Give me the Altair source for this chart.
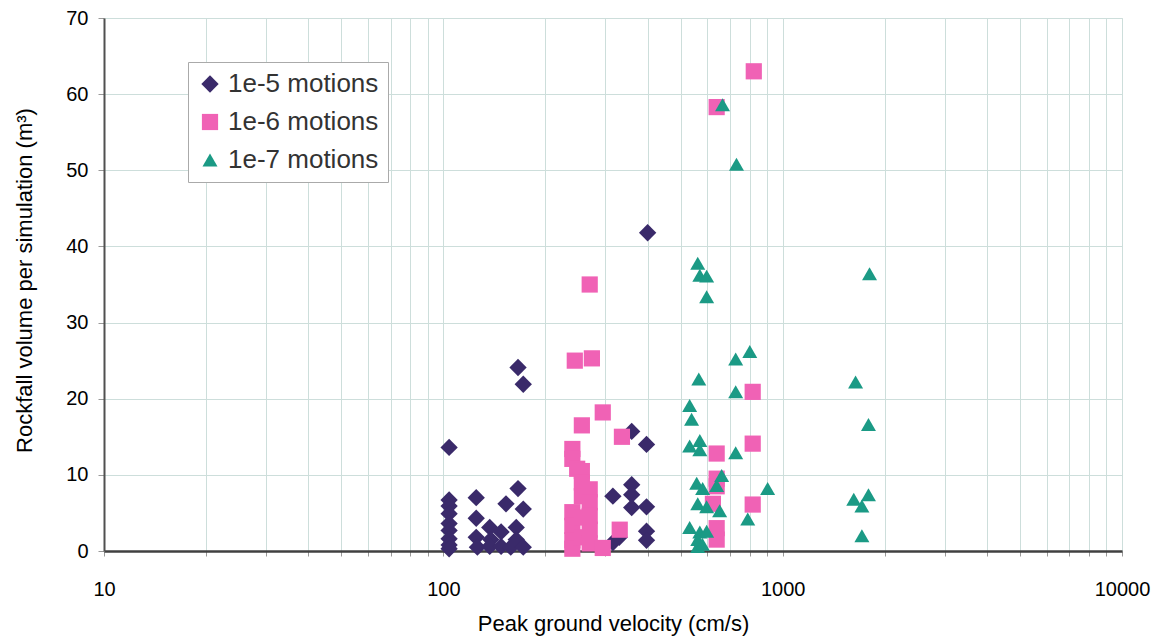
import altair as alt
import pandas as pd

# ---- data ----
s5_name = "1e-5 motions"
s5_x = [104, 104, 104, 104, 104, 104, 104, 104, 104,
        125, 125, 125, 126,
        137, 138, 137,
        148, 148, 153, 158,
        164, 164, 166, 166, 172, 172, 172,
        316, 316, 330, 359, 359, 359, 359,
        397, 397, 397, 397, 400]
s5_y = [13.6, 6.7, 5.9, 4.9, 3.6, 2.7, 1.6, 0.8, 0.3,
        7.0, 4.3, 1.8, 0.5,
        3.1, 1.5, 0.6,
        0.6, 2.5, 6.2, 0.5,
        3.1, 1.5, 8.2, 24.1, 21.9, 5.5, 0.5,
        7.2, 1.1, 1.8, 15.7, 8.7, 7.4, 5.7,
        14.0, 5.8, 2.6, 1.4, 41.8]

s6_name = "1e-6 motions"
s6_x = [244, 274, 270, 295, 256, 336,
        240, 240, 240, 240, 240, 240, 248,
        256, 256, 256, 256, 256,
        270, 270, 270, 270, 270,
        295, 331,
        639, 639, 639, 623, 639, 639,
        816, 816, 816, 822, 639]
s6_y = [25.0, 25.3, 35.0, 18.2, 16.5, 15.0,
        13.4, 12.1, 5.1, 3.3, 1.4, 0.3, 10.8,
        10.5, 9.0, 7.2, 4.4, 1.8,
        8.1, 6.4, 4.6, 2.8, 1.0,
        0.4, 2.8,
        12.8, 9.5, 8.5, 6.2, 3.0, 1.5,
        20.9, 14.1, 6.1, 63.0, 58.3]

s7_name = "1e-7 motions"
s7_x = [566, 532, 539, 532, 570, 570, 727, 558, 581, 661,
        639, 562, 597, 652, 532, 570, 597, 562, 562, 580,
        789, 903, 727, 800, 727,
        562, 570, 597, 597, 665, 731,
        1803, 1640, 1790, 1790, 1620, 1712, 1712]
s7_y = [22.6, 19.1, 17.3, 13.8, 14.5, 13.3, 12.9, 8.9, 8.2, 9.9,
        8.6, 6.2, 5.8, 5.3, 3.1, 2.5, 2.6, 0.6, 1.5, 0.9,
        4.2, 8.2, 20.9, 26.2, 25.2,
        37.8, 36.2, 36.1, 33.4, 58.6, 50.8,
        36.4, 22.2, 16.6, 7.4, 6.8, 5.9, 2.0]

series_names = [s5_name, s6_name, s7_name]
series_colors = ["#3a2a6a", "#f062b5", "#1b9a85"]
series_shapes = ["diamond", "square", "triangle-up"]
series_sizes = [300, 225, 290]

x_ticks = [10, 20, 30, 40, 50, 60, 70, 80, 90,
           100, 200, 300, 400, 500, 600, 700, 800, 900,
           1000, 2000, 3000, 4000, 5000, 6000, 7000, 8000, 9000, 10000]
y_ticks = [0, 10, 20, 30, 40, 50, 60, 70]

rows = []
for name, xs, ys in [(s5_name, s5_x, s5_y), (s6_name, s6_x, s6_y), (s7_name, s7_x, s7_y)]:
    for xv, yv in zip(xs, ys):
        rows.append({"pgv": xv, "vol": yv, "series": name})
df = pd.DataFrame(rows)

FONT = "Liberation Sans"
TXT = "#333333"

chart = alt.Chart(df).mark_point(filled=True, opacity=1).encode(
    x=alt.X("pgv:Q",
            scale=alt.Scale(type="log", domain=[10, 10000], nice=False),
            axis=alt.Axis(values=x_ticks, format="d",
                          labelExpr="(datum.value==10||datum.value==100||datum.value==1000||datum.value==10000) ? datum.label : ''",
                          labelOverlap=False, labelFlush=False,
                          title="Peak ground velocity (cm/s)",
                          titleY=62, titleBaseline="top",
                          tickSize=5, tickColor="#999999",
                          labelPadding=23, labelFontSize=20,
                          titleFontSize=22, titleFontWeight="normal",
                          domainColor="#404040", domainWidth=2.5,
                          gridColor="#cddedb", gridWidth=1)),
    y=alt.Y("vol:Q",
            scale=alt.Scale(domain=[0, 70], nice=False),
            axis=alt.Axis(values=y_ticks,
                          title="Rockfall volume per simulation (m³)",
                          titleX=-80, titleY=262, titleAngle=-90,
                          titleAlign="center", titleBaseline="middle",
                          tickSize=6, tickColor="#999999",
                          labelPadding=10, labelFontSize=20,
                          titleFontSize=22, titleFontWeight="normal",
                          domainColor="#505050", domainWidth=2,
                          gridColor="#cddedb", gridWidth=1)),
    color=alt.Color("series:N",
                    scale=alt.Scale(domain=series_names, range=series_colors),
                    legend=alt.Legend(title=None, orient="none",
                                      legendX=84, legendY=44,
                                      labelFontSize=26, labelFont=FONT, labelColor=TXT,
                                      symbolSize=240, symbolStrokeWidth=0,
                                      rowPadding=12, padding=9, labelOffset=5,
                                      fillColor="white", strokeColor="#aaaaaa")),
    shape=alt.Shape("series:N",
                    scale=alt.Scale(domain=series_names, range=series_shapes),
                    legend=None),
    size=alt.Size("series:N",
                  scale=alt.Scale(domain=series_names, range=series_sizes),
                  legend=None),
).properties(
    width=1018, height=533,
    autosize=alt.AutoSizeParams(type="none"),
    padding={"left": 96, "top": 10, "right": 30, "bottom": 90},
).configure_axis(
    labelFont=FONT, titleFont=FONT, labelColor=TXT, titleColor=TXT,
).configure_view(
    stroke="#505050", strokeWidth=2,
).configure(background="white")

chart.save("out.html", embed_options={"renderer": "svg", "actions": False})
